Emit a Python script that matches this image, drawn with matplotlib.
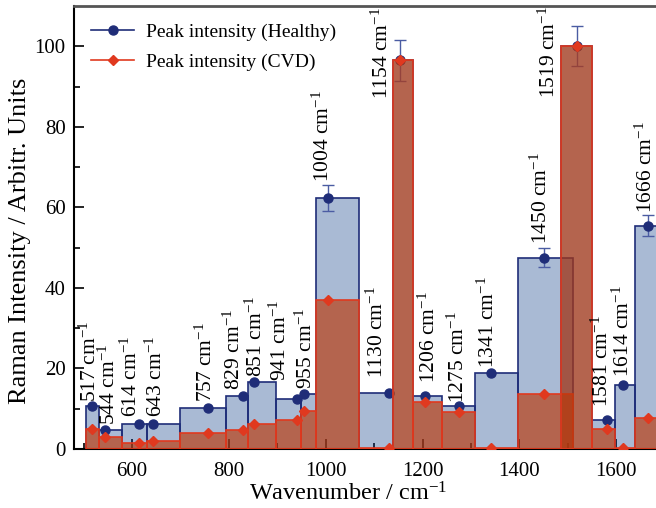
import numpy as np
import matplotlib
matplotlib.use("Agg")
import matplotlib.pyplot as plt
from matplotlib.lines import Line2D

plt.rcParams['font.family'] = ['Liberation Serif', 'DejaVu Serif']
plt.rcParams['mathtext.fontset'] = 'custom'
plt.rcParams['mathtext.rm'] = 'Liberation Serif'
plt.rcParams['mathtext.it'] = 'Liberation Serif'

# peak positions (cm-1) and bin edges of each bar
peaks = [517, 544, 614, 643, 757, 829, 851, 941, 955, 1004,
         1130, 1154, 1206, 1275, 1341, 1450, 1519, 1581, 1614, 1666]
bin_left = [504, 531, 580, 630, 700, 793, 840, 898, 948, 979,
            1068, 1140, 1181, 1241, 1308, 1398, 1487, 1551, 1597, 1639]
bin_right = [531, 580, 630, 700, 793, 840, 898, 948, 979, 1068,
             1140, 1181, 1241, 1308, 1398, 1510, 1551, 1597, 1639, 1700]

healthy = [10.7, 4.7, 6.1, 6.1, 10.3, 13.2, 16.6, 12.4, 13.7, 62.4,
           13.9, 96.5, 13.2, 10.7, 18.9, 47.5, 100.0, 7.2, 15.9, 55.5]
healthy_err = [0, 0, 0, 0, 0, 0, 0, 0, 0, 3.2,
               0, 5.0, 0, 0, 0, 2.3, 5.0, 0, 0, 2.7]
cvd = [4.9, 3.0, 1.5, 2.0, 4.0, 4.8, 6.1, 7.2, 9.4, 37.0,
       0.2, 96.5, 11.7, 9.3, 0.3, 13.6, 100.0, 5.0, 0.2, 7.7]

# label nudges (layout only)
lab_dx = [-3, 9, -15, 7, -3, -17, 6, -34, 5, -9,
          -23, -37, 8, -1, -5, -4, -57, -9, 1, -3]
lab_dy = [1.0, 1.3, 1.9, 1.9, 1.4, 1.5, 1.4, 4.6, 1.3, 0.8,
          3.7, -14.7, 3.2, 0.7, 1.1, 1.2, -17.9, 3.3, 2.1, 0.3]

navy = '#1f2d78'
red = '#e0391f'
blue_face = (11/255, 58/255, 134/255, 0.35)
red_face = (187/255, 55/255, 7/255, 0.65)

fig = plt.figure(figsize=(6.56, 5.08), dpi=100)
ax = fig.add_axes([0.1128, 0.1161, 0.9002, 0.872])

left = np.array(bin_left)
width = np.array(bin_right) - left

ax.bar(left, healthy, width=width, align='edge', facecolor=blue_face,
       edgecolor=navy, linewidth=1.2, zorder=2)
idx = [i for i, e in enumerate(healthy_err) if e > 0]
ax.errorbar([peaks[i] for i in idx], [healthy[i] for i in idx],
            yerr=[healthy_err[i] for i in idx], fmt='none', ecolor='#4b5ca3',
            elinewidth=1, capsize=4, capthick=1, zorder=3)
ax.plot(peaks, healthy, 'o', color=navy, ms=6.5, zorder=3)

ax.bar(left, cvd, width=width, align='edge', facecolor=red_face,
       edgecolor=red, linewidth=1.2, zorder=4)
ax.plot(peaks, cvd, 'D', color=red, ms=5, zorder=5)

for i, p in enumerate(peaks):
    ax.text(p + lab_dx[i], healthy[i] + healthy_err[i] + lab_dy[i],
            f'{p} cm$^{{-1}}$', rotation=90, ha='center', va='bottom',
            fontsize=15.5, zorder=6)

ax.set_xlim(480, 1700)
ax.set_ylim(0, 110)
ax.set_xticks([600, 800, 1000, 1200, 1400, 1600])
ax.set_xticks(np.arange(500, 1700, 100), minor=True)
ax.set_yticks([0, 20, 40, 60, 80, 100])
ax.set_yticks(np.arange(0, 110, 10), minor=True)
ax.tick_params(which='both', direction='in', top=False, right=False,
               labelsize=15, width=1.2)
ax.tick_params(which='major', length=7)
ax.tick_params(which='minor', length=4.5)
ax.tick_params(axis='x', which='major', pad=9)
ax.tick_params(axis='y', which='major', pad=6)

for s in ['left', 'bottom']:
    ax.spines[s].set_linewidth(1.5)
ax.spines['top'].set_linewidth(2)
ax.spines['top'].set_color('#555555')
ax.spines['right'].set_visible(False)

ax.set_xlabel('Wavenumber / cm$^{-1}$', fontsize=17.5)
ax.xaxis.set_label_coords(0.464, -0.075)
ax.set_ylabel('Raman Intensity / Arbitr. Units', fontsize=19)
ax.yaxis.set_label_coords(-0.072, 0.47)

handles = [Line2D([], [], color=navy, marker='o', ms=6.5, lw=1.2),
           Line2D([], [], color=red, marker='D', ms=5, lw=1.2)]
ax.legend(handles, ['Peak intensity (Healthy)', 'Peak intensity (CVD)'],
          loc='upper left', bbox_to_anchor=(0.006, 0.992), frameon=False,
          fontsize=14, handlelength=2.2, handletextpad=0.6, labelspacing=0.65,
          borderaxespad=0.3)

fig.savefig('out.png', dpi=100)
